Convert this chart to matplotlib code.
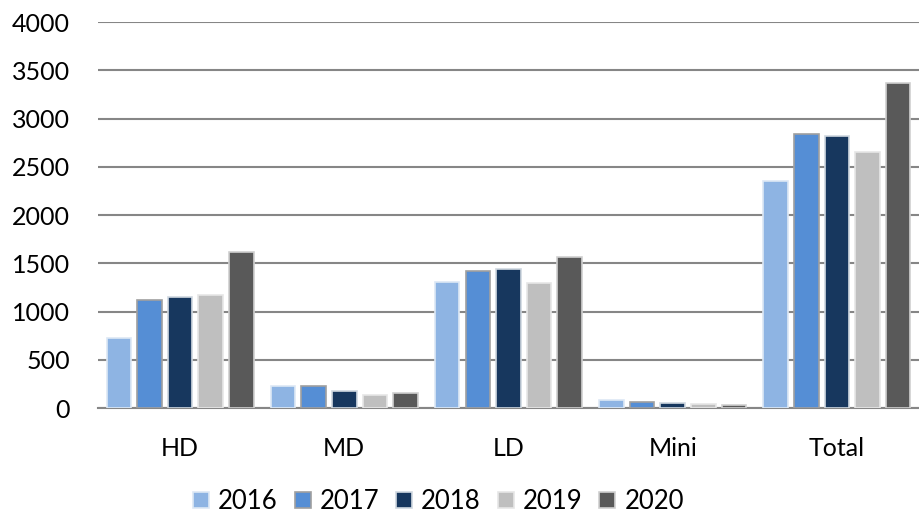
import matplotlib
matplotlib.use("Agg")
import matplotlib.pyplot as plt
import numpy as np

categories = ["HD", "MD", "LD", "Mini", "Total"]
years = ["2016", "2017", "2018", "2019", "2020"]
v2016 = [725, 225, 1305, 85, 2355]
v2017 = [1118, 230, 1425, 65, 2840]
v2018 = [1150, 175, 1440, 55, 2820]
v2019 = [1175, 135, 1300, 45, 2655]
v2020 = [1615, 155, 1560, 30, 3370]
series = [v2016, v2017, v2018, v2019, v2020]
colors = ["#8EB4E3", "#558ED5", "#17375E", "#BFBFBF", "#595959"]
edges = ["#DDE8F5", "#A0A0A0", "#D0D8E0", "#E6E6E6", "#D0D0D0"]

plt.rcParams['font.family'] = ['Lato', 'DejaVu Sans']

fig = plt.figure(figsize=(9.19, 5.17), dpi=100)
ax = fig.add_axes([0.1066, 0.2108, 0.8934, 0.7466])

x = np.arange(len(categories))
pitch = 0.1865
width = 0.149
for i, (vals, c, e) in enumerate(zip(series, colors, edges)):
    ax.bar(x + (i - 2) * pitch, vals, width, color=c, edgecolor=e,
           linewidth=1.2, label=years[i], zorder=3)

ax.set_xlim(-0.5, 4.5)
ax.set_ylim(0, 4000)
ax.set_yticks(range(0, 4001, 500))
ax.set_xticks(x)
ax.set_xticklabels(categories)
ax.tick_params(axis='both', length=0, labelsize=18, colors='black')
ax.tick_params(axis='y', pad=20)
ax.tick_params(axis='x', pad=21)
ax.grid(axis='y', color='#868686', linewidth=1.5, zorder=0)
for s in ['top', 'right', 'left']:
    ax.spines[s].set_visible(False)
ax.spines['bottom'].set_color('#868686')
ax.spines['bottom'].set_linewidth(1.5)

leg = fig.legend(loc='center', bbox_to_anchor=(0.477, 0.03), ncol=5,
                 frameon=False, fontsize=18.5, handlelength=0.62, handleheight=0.62,
                 handletextpad=0.35, columnspacing=0.66, borderpad=0)

fig.savefig("out.png", dpi=100)
